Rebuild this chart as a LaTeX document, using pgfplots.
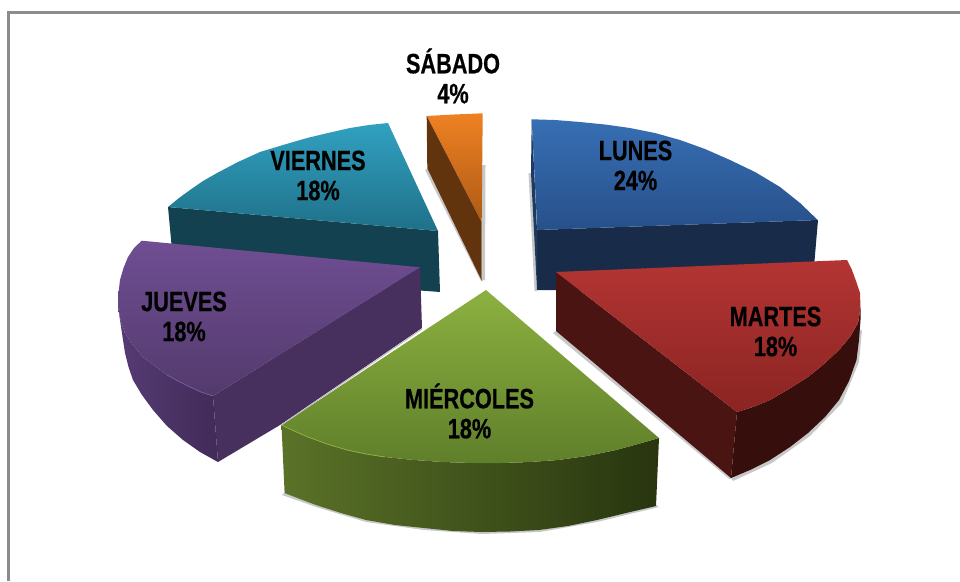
\documentclass[border=0pt]{standalone}
\usepackage{fontspec}
\setmainfont{Liberation Sans}[FakeStretch=0.775,BoldFeatures={FakeBold=0.5}]
\usepackage{pgfplots}
\pgfplotsset{compat=1.18}
\definecolor{lunA}{HTML}{376FB4}\definecolor{lunB}{HTML}{27508A}\definecolor{lunS}{HTML}{182C49}\definecolor{lunD}{HTML}{1E3A62}
\definecolor{marA}{HTML}{B33533}\definecolor{marB}{HTML}{8A2422}\definecolor{marS}{HTML}{4A1413}\definecolor{marO}{HTML}{360E0C}
\definecolor{mieA}{HTML}{8CB140}\definecolor{mieB}{HTML}{5F7F2A}\definecolor{mieL}{HTML}{5A7228}\definecolor{mieR}{HTML}{28350F}\definecolor{mieH}{HTML}{8DB043}
\definecolor{jueA}{HTML}{6F4E93}\definecolor{jueB}{HTML}{533A6C}\definecolor{jueS}{HTML}{47305E}\definecolor{jueL}{HTML}{563B74}\definecolor{jueR}{HTML}{412B58}\definecolor{jueH}{HTML}{7658A0}
\definecolor{vieA}{HTML}{31A1C1}\definecolor{vieB}{HTML}{1F7088}\definecolor{vieS}{HTML}{134150}
\definecolor{sabA}{HTML}{EF8123}\definecolor{sabB}{HTML}{AD5A14}\definecolor{sabS}{HTML}{62340D}
\definecolor{shad}{HTML}{C8C8C8}
\definecolor{frame}{HTML}{8C8C8C}
\newcommand{\lab}[3]{\node[align=center,inner sep=0pt,font=\fontsize{28}{30}\selectfont\bfseries] at (axis cs:#1,#2) {#3};}
\begin{document}
\begin{tikzpicture}
\path[use as bounding box] (0,0) rectangle (960pt,581pt);
\begin{axis}[at={(0,0)},anchor=south west,scale only axis,width=960pt,height=581pt,xmin=0,xmax=960,ymin=0,ymax=581,y dir=reverse,axis lines=none,clip=true]
% frame
\addplot[frame,line width=2.6pt,forget plot] coordinates {(8.7,581) (8.7,12.5) (960,12.5)};
% shadows
\addplot[draw=none,fill=shad,forget plot] coordinates {(528.5,173) (532,173) (537,291) (534.5,291)} --cycle;
\addplot[draw=none,fill=shad,forget plot] coordinates {(425,170) (428,168) (483,281) (481,281)} --cycle;
\addplot[draw=none,fill=shad,forget plot] coordinates {(482,165) (485.5,165) (485,280) (482,280)} --cycle;
\addplot[draw=none,fill=shad,forget plot] coordinates {(860,330) (862,330) (859,362) (842,403) (810,436) (772,463) (733,481) (731,478)} --cycle;
\addplot[draw=none,fill=shad,forget plot] coordinates {(553,333) (556,331) (732,478) (729.5,479)} --cycle;
\addplot[draw=none,fill=shad,forget plot] coordinates {(282,495) (316,507) (366,522) (424,530) (482,534) (540,532) (597,522) (659,507) (656,505) (482,530) (285,492)} --cycle;
% Viernes
\addplot[draw=none,fill=vieS,forget plot] coordinates {(168,207) (438,231) (440,292) (400,289) (172,250)} --cycle;
\addplot[draw=none,top color=vieA,bottom color=vieB,forget plot] coordinates {(388,123) (369,125) (350,128) (328,133) (307,138) (283,145) (260,152) (238,162) (217,173) (203,181) (190,190) (179,198) (168,207) (438,231)} --cycle;
% Sabado
\addplot[draw=none,top color=sabA,bottom color=sabB,forget plot] coordinates {(426.7,116) (454,114.5) (482.7,113.3) (481.7,222.3)} --cycle;
\addplot[draw=none,fill=sabS,forget plot] coordinates {(426.7,116) (481.7,222.3) (481.7,280.7) (427.3,168.3)} --cycle;
% Lunes
\addplot[draw=none,fill=lunS,forget plot] coordinates {(537,230) (818,220) (812,290) (537,290)} --cycle;
\addplot[draw=none,fill=lunD,forget plot] coordinates {(531.7,119) (537,230) (537,290) (531,173)} --cycle;
\addplot[draw=none,top color=lunA,bottom color=lunB,forget plot] coordinates {(531.7,119.3) (555,120) (580,122) (605,124.5) (630,128) (655,133) (680,140) (705,149) (730,160) (755,172) (780,187) (800,203) (817.7,220) (537.3,230)} --cycle;
% Martes
\addplot[draw=none,fill=marS,forget plot] coordinates {(556,272) (737,412) (731,478) (556,331)} --cycle;
\addplot[draw=none,fill=marO,forget plot] coordinates {(737,412) (753,407) (770,400) (789,389) (808,377) (824,364) (839,350) (850,337) (858,323) (860.5,308) (860.5,320) (859,340) (856.5,360) (849,381) (839,400) (825,417) (808,433) (790,447) (770,460) (750,470) (731,478)} --cycle;
\addplot[draw=none,top color=marA,bottom color=marB,forget plot] coordinates {(556,272) (847,260) (852,270) (856,281) (860,293) (860.5,308) (858,323) (850,337) (839,350) (824,364) (808,377) (789,389) (770,400) (753,407) (737,412)} --cycle;
% Jueves
\addplot[draw=none,fill=jueS,forget plot] coordinates {(213,396) (420,267) (422,328) (280,425) (218,462)} --cycle;
\addplot[draw=none,left color=jueL,right color=jueR,forget plot] coordinates {(118,307) (120,320) (123,340) (125,353) (128.5,367) (133,380) (142,395) (153,410) (167,426) (183,440) (200,452) (218,462) (213,396) (201,392) (190,387) (178,381) (167,375) (155,366) (143,357) (133,345) (125,333) (120.5,320)} --cycle;
\addplot[draw=none,top color=jueA,bottom color=jueB,forget plot] coordinates {(141.7,240.7) (420,267.3) (213,396) (201,392) (190,387) (178,381) (167,375) (155,366) (143,357) (133,345) (125,333) (120.5,320) (118,307) (118.5,293) (120,280) (123.5,268) (128,257) (134,248)} --cycle;
\addplot[jueH,line width=0.8pt,forget plot] coordinates {(167,375) (178,381) (190,387) (201,392) (213,396)};
% Miercoles
\addplot[draw=none,left color=mieL,right color=mieR,forget plot] coordinates {(281.5,425) (294,431) (308,437) (327,444) (347,450) (366,454) (385,457) (414,460) (443,462) (472,463) (501,463) (530,462) (558,460) (587,456) (616,450) (638,444) (659,438) (656,506) (626,513) (597,520) (568,526) (539,530) (510,531.5) (481.5,532) (453,531) (424,528) (395,525) (366,520) (341,513) (316,505) (300,499) (284.6,493)} --cycle;
\addplot[draw=none,top color=mieA,bottom color=mieB,forget plot] coordinates {(486,290) (659,438) (638,444) (616,450) (587,456) (558,460) (530,462) (501,463) (472,463) (443,462) (414,460) (385,457) (366,454) (347,450) (327,444) (308,437) (294,431) (281.5,425)} --cycle;
\addplot[mieH,line width=0.8pt,forget plot] coordinates {(281.5,425) (294,431) (308,437) (327,444) (347,450) (366,454) (385,457)};
\addplot[gray!55,line width=0.9pt,forget plot] coordinates {(422,329) (281.5,425)};
% labels
\lab{635.5}{165.5}{LUNES\\24\%}
\lab{775.5}{331.5}{MARTES\\18\%}
\lab{469.5}{411}{MIÉRCOLES\\18\%}
\lab{184}{316.5}{JUEVES\\18\%}
\lab{318}{175.5}{VIERNES\\18\%}
\lab{453}{76}{SÁBADO\\4\%}
\end{axis}
\end{tikzpicture}
\end{document}
